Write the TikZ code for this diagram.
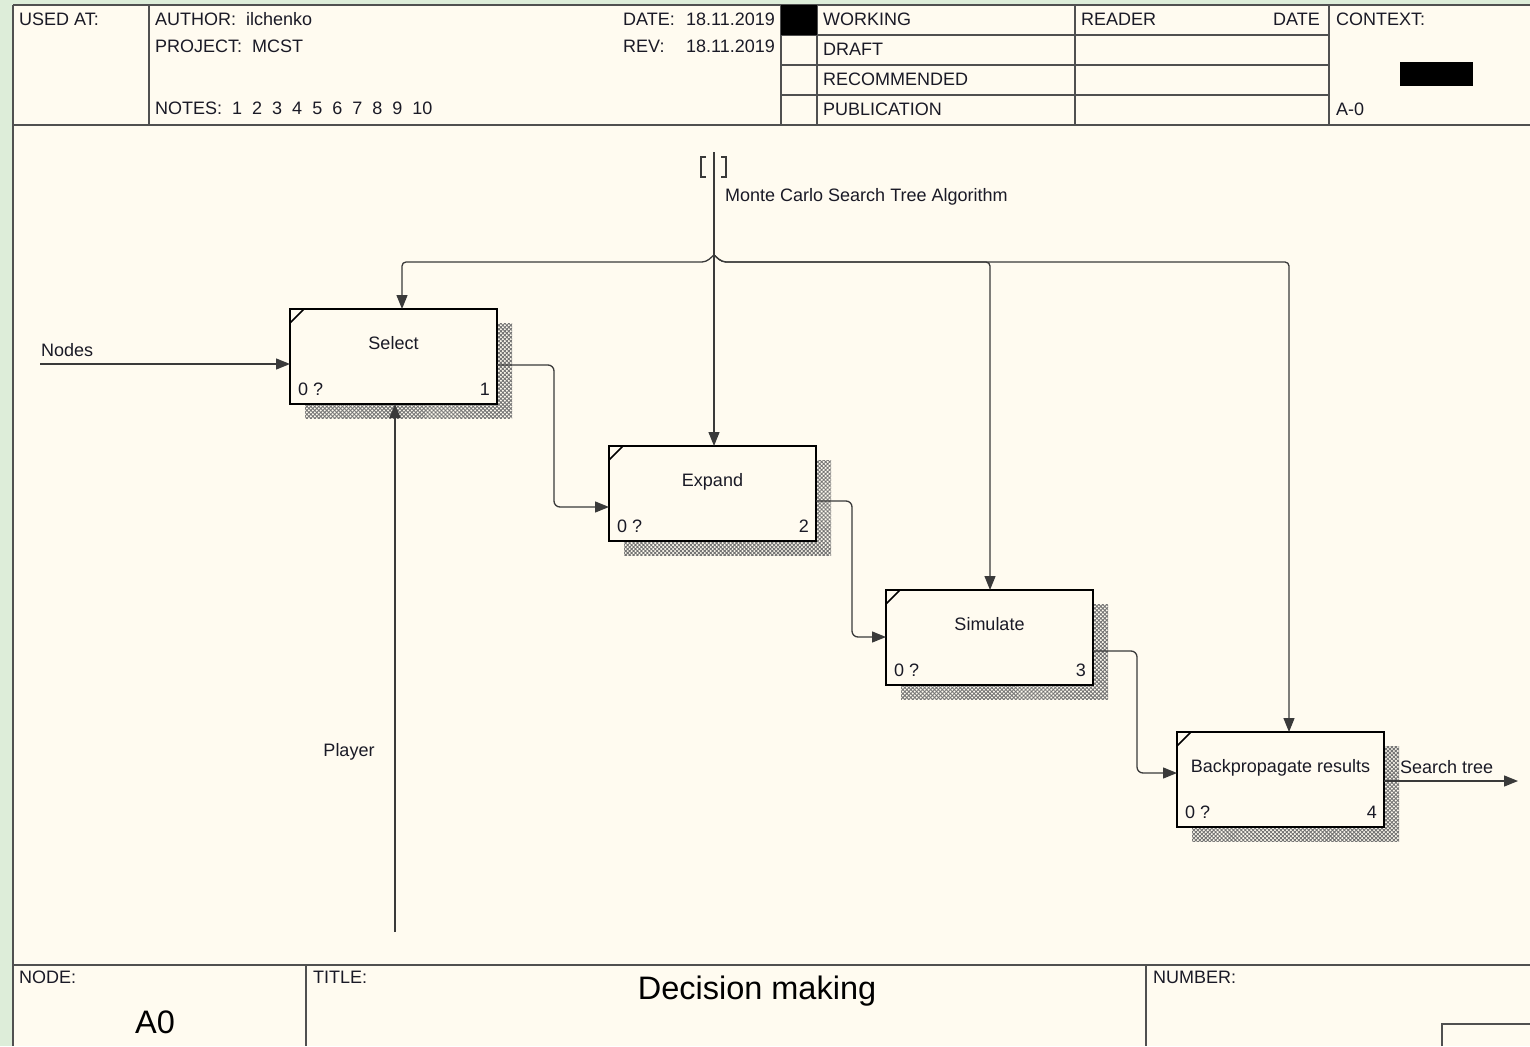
\documentclass[tikz,border=0pt]{standalone}
\usepackage{fontspec}
\setmainfont{Liberation Sans}
\usetikzlibrary{arrows.meta,calc,patterns.meta}
\definecolor{bg}{HTML}{FFFBF0}
\definecolor{grn}{HTML}{DDEDD9}
\definecolor{ln}{HTML}{505050}
\definecolor{ink}{HTML}{1A1A26}
\definecolor{cline}{HTML}{3A3A3A}
\newcommand\idefbox[6]{% name, x, y, label, number, label-name prefix
  \fill[shadowfill] (#2+15,#3+14) rectangle (#2+222,#3+109);
  \node[abox,anchor=north west] (#1) at (#2,#3) {};
  \draw[line width=1.6pt] (#2,#3+14) -- (#2+14,#3);
  \node[txt,anchor=base] (#6lab) at (#2+103.5,#3+40) {#4};
  \node[txt,anchor=base west] (#6cost) at (#2+8,#3+86) {0 ?};
  \node[txt,anchor=base east] (#6num) at (#2+200,#3+86) {#5};
}
\begin{document}
\begin{tikzpicture}[x=1pt,y=-1pt,
  frame/.style={draw=ln,line width=1.5pt},
  txt/.style={inner sep=0,text=ink,font=\fontsize{18}{21}\selectfont},
  big/.style={inner sep=0,text=black,font=\fontsize{32.5}{36}\selectfont},
  abox/.style={draw=black,line width=2pt,fill=bg,minimum width=207pt,minimum height=95pt,inner sep=0,outer sep=0},
  conn/.style={draw=cline,line width=1.3pt,-{Triangle[length=14pt,width=11pt]}},
  shadowfill/.style={pattern={Hatch[angle=45,distance=2.8pt,line width=0.9pt]},pattern color=black!55}
]
\useasboundingbox (0,0) rectangle (1530,1046);
\fill[grn] (0,0) rectangle (1530,1046);
\fill[bg] (13,5) rectangle (1530,1046);

% ---- header ----
\draw[frame] (13,5) -- (1530,5);
\draw[frame] (13,125) -- (1530,125);
\draw[frame] (13,5) -- (13,1046);
\draw[frame] (149,5) -- (149,125);
\draw[frame] (781,5) -- (781,125);
\draw[frame] (817,5) -- (817,125);
\draw[frame] (1075,5) -- (1075,125);
\draw[frame] (1329,5) -- (1329,125);
\draw[frame] (781,35) -- (1329,35);
\draw[frame] (781,65) -- (1329,65);
\draw[frame] (781,95) -- (1329,95);
\fill[black] (781,5) rectangle (817,35);
\fill[black] (1400,62) rectangle (1473,86);

\node[txt,anchor=base west] (usedat) at (19,26) {USED AT:};
\node[txt,anchor=base west] (author) at (155,26) {AUTHOR:\ \ ilchenko};
\node[txt,anchor=base west] (project) at (155,53) {PROJECT:\ \ MCST};
\node[txt,anchor=base west] (notes) at (155,115) {NOTES:\ \ 1\ \ 2\ \ 3\ \ 4\ \ 5\ \ 6\ \ 7\ \ 8\ \ 9\ \ 10};
\node[txt,anchor=base west] (datel) at (623,26) {DATE:};
\node[txt,anchor=base east] (datev) at (775,26) {18.11.2019};
\node[txt,anchor=base west] (revl) at (623,53) {REV:};
\node[txt,anchor=base east] (revv) at (775,53) {18.11.2019};
\node[txt,anchor=base west] (working) at (823,26) {WORKING};
\node[txt,anchor=base west] (draft) at (823,56) {DRAFT};
\node[txt,anchor=base west] (recom) at (823,86) {RECOMMENDED};
\node[txt,anchor=base west] (publ) at (823,116) {PUBLICATION};
\node[txt,anchor=base west] (reader) at (1081,26) {READER};
\node[txt,anchor=base east] (rdate) at (1320,26) {DATE};
\node[txt,anchor=base west] (context) at (1336,26) {CONTEXT:};
\node[txt,anchor=base west] (aminus) at (1336,116) {A-0};

% ---- footer ----
\draw[frame] (13,965) -- (1530,965);
\draw[frame] (306,965) -- (306,1046);
\draw[frame] (1146,965) -- (1146,1046);
\draw[frame] (1442,1046) -- (1442,1024) -- (1530,1024);
\node[txt,anchor=base west] (nodel) at (19,983) {NODE:};
\node[big,anchor=base] (nodev) at (155,1033) {A0};
\node[txt,anchor=base west] (titlel) at (313,983) {TITLE:};
\node[big,anchor=base] (titlev) at (757,999) {Decision making};
\node[txt,anchor=base west] (numl) at (1153,983) {NUMBER:};

% ---- activity boxes ----
\idefbox{sel}{290}{309}{Select}{1}{s}
\idefbox{exp}{609}{446}{Expand}{2}{e}
\idefbox{sim}{886}{590}{Simulate}{3}{m}
\idefbox{bp}{1177}{732}{Backpropagate results}{4}{b}

% ---- control ----
\coordinate (cTop) at (714,152);
\coordinate (jT) at (714,255);
\coordinate (jB) at (714,262);
\coordinate (xs) at (402,0);
\coordinate (xm) at (990,0);
\coordinate (xb) at (1289,0);
\draw[conn] (cTop) -- (cTop |- exp.north);
\draw[conn,rounded corners=4pt] (jT) -- ++(-8,7) -- (xs |- jB) -- (xs |- sel.north);
\draw[conn,rounded corners=4pt] (jT) -- ++(8,7) -- (xm |- jB) -- (xm |- sim.north);
\draw[conn,rounded corners=4pt] (jT) -- ++(8,7) -- (xb |- jB) -- (xb |- bp.north);
\draw[draw=cline,line width=1.3pt] (706,157) -- (701,157) -- (701,177) -- (706,177);
\draw[draw=cline,line width=1.3pt] (721,157) -- (726,157) -- (726,177) -- (721,177);
\node[txt,anchor=base west] (ctrl) at (725,201) {Monte Carlo Search Tree Algorithm};

% ---- input / mechanism ----
\coordinate (nIn) at (40,364);
\draw[conn] (nIn) -- (nIn -| sel.west);
\node[txt,anchor=base west] (nodeslab) at (41,356) {Nodes};
\coordinate (pIn) at (395,932);
\draw[conn] (pIn) -- (pIn |- sel.south);
\node[txt,anchor=base] (playerlab) at (349,756) {Player};

% ---- box-to-box flows ----
\coordinate (m1) at (554,0);
\coordinate (m2) at (852,0);
\coordinate (m3) at (1137,0);
\coordinate (a1) at ($(sel.north east)+(0,56)$);
\coordinate (b1) at ($(exp.north west)+(0,61)$);
\coordinate (a2) at ($(exp.north east)+(0,55)$);
\coordinate (b2) at ($(sim.north west)+(0,47)$);
\coordinate (a3) at ($(sim.north east)+(0,61)$);
\coordinate (b3) at ($(bp.north west)+(0,41)$);
\draw[conn,rounded corners=6pt] (a1) -- (a1 -| m1) -- (b1 -| m1) -- (b1);
\draw[conn,rounded corners=6pt] (a2) -- (a2 -| m2) -- (b2 -| m2) -- (b2);
\draw[conn,rounded corners=6pt] (a3) -- (a3 -| m3) -- (b3 -| m3) -- (b3);

% ---- output ----
\coordinate (oEnd) at (1518,0);
\coordinate (a4) at ($(bp.north east)+(0,49)$);
\draw[conn] (a4) -- (a4 -| oEnd);
\node[txt,anchor=base west] (outlab) at (1400,773) {Search tree};
\end{tikzpicture}
\end{document}
